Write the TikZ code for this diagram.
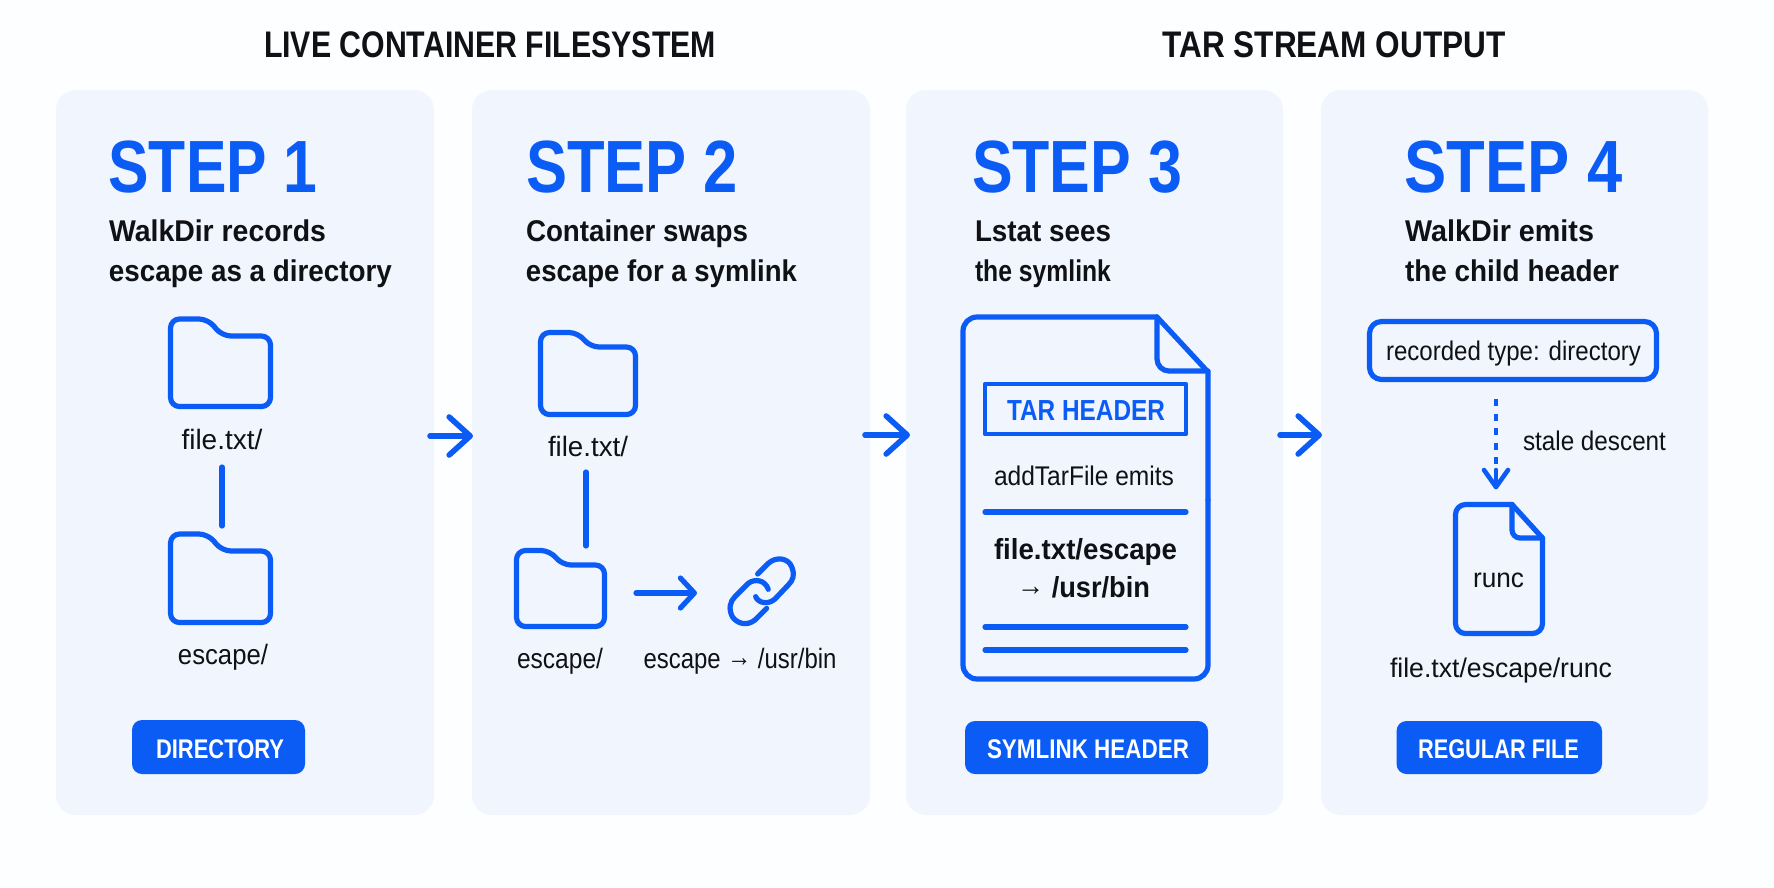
\documentclass[tikz,border=0pt]{standalone}
\usepackage{fontspec}
\usepackage{graphicx}
\setmainfont{Liberation Sans}
\usetikzlibrary{arrows.meta}
\definecolor{bluemain}{HTML}{0B5CF5}
\definecolor{panelbg}{HTML}{F1F5FE}
\definecolor{pagebg}{HTML}{FDFEFF}
\definecolor{inkc}{HTML}{101114}
\tikzset{
  panel/.style={fill=panelbg,draw=none,rounded corners=20pt},
  icon/.style={draw=bluemain,line width=5.2pt,line join=round,line cap=round},
  wire/.style={draw=bluemain,line width=5.2pt,line cap=round},
  flow/.style={draw=bluemain,line width=5.6pt,line cap=round,line join=round,
    -{Straight Barb[length=21pt,width=38pt,line width=5.6pt,round]}},
  smallflow/.style={draw=bluemain,line width=5.2pt,line cap=round,line join=round,
    -{Straight Barb[length=14pt,width=30pt,line width=5.2pt,round]}},
  pill/.style={fill=bluemain,draw=none,rounded corners=10pt},
  txt/.style={anchor=base,inner sep=0pt,outer sep=0pt,text=inkc},
}
\newcommand{\fs}[1]{\fontsize{#1pt}{#1pt}\selectfont}
\newcommand{\upar}{\raisebox{1.5pt}{→}}
% name, x, baseline y, width, font, text
\newcommand{\lab}[6]{\node[txt] (#1) at (#2,#3) {\resizebox{#4pt}{\height}{#5#6}};}
\newcommand{\steplab}[5]{\node[txt,text=bluemain] (#1) at (#2,#3) {\resizebox{#4pt}{\height}{\fs{74}\bfseries #5}};}
\newcommand{\pilllab}[5]{\node[txt,text=white] (#1) at (#2,#3) {\resizebox{#4pt}{\height}{\fs{27}\bfseries #5}};}
% x1 y1 x2 y2 xa xb yt
\newcommand{\folder}[7]{\draw[icon,rounded corners=9pt] (#1,#4) -- (#1,#2) -- (#5,#2) -- (#6,#7) -- (#3,#7) -- (#3,#4) -- cycle;}
\begin{document}
\begin{tikzpicture}[x=1pt,y=-1pt]
\useasboundingbox (0,0) rectangle (1774,887);
\fill[pagebg] (0,0) rectangle (1774,887);
% panels
\fill[panel] (56,90) rectangle (434,815);
\fill[panel] (472,90) rectangle (870,815);
\fill[panel] (906,90) rectangle (1283,815);
\fill[panel] (1321,90) rectangle (1708,815);
% titles
\lab{titleA}{490}{57}{452}{\fs{37}\bfseries}{LIVE CONTAINER FILESYSTEM}
\lab{titleB}{1334}{57}{343}{\fs{37}\bfseries}{TAR STREAM OUTPUT}
% step heads
\steplab{s1}{213}{192}{209}{STEP 1}
\steplab{s2}{632}{192}{212}{STEP 2}
\steplab{s3}{1077}{192}{210}{STEP 3}
\steplab{s4}{1513.5}{192}{218}{STEP 4}
% subtitles
\lab{s1a}{217.5}{241}{217}{\fs{30}\bfseries}{WalkDir records}
\lab{s1b}{250.5}{281}{283}{\fs{30}\bfseries}{escape as a directory}
\lab{s2a}{637}{241}{222}{\fs{30}\bfseries}{Container swaps}
\lab{s2b}{661.5}{281}{271}{\fs{30}\bfseries}{escape for a symlink}
\lab{s3a}{1043}{241}{136}{\fs{30}\bfseries}{Lstat sees}
\lab{s3b}{1043}{281}{136}{\fs{30}\bfseries}{the symlink}
\lab{s4a}{1499.5}{241}{189}{\fs{30}\bfseries}{WalkDir emits}
\lab{s4b}{1512}{281}{214}{\fs{30}\bfseries}{the child header}
% panel 1
\folder{170.5}{319}{270.5}{406.5}{208}{222}{336}
\folder{170.5}{534}{270.5}{622.5}{208}{222}{551}
\lab{p1a}{222}{449}{81}{\fs{28}}{file.txt/}
\lab{p1b}{223}{664}{90}{\fs{28}}{escape/}
\coordinate (c1a) at (222,467);
\coordinate (c1b) at (222,526);
\draw[wire] (c1a) -- (c1b);
\fill[pill] (132,720) rectangle (305,774);
\pilllab{b1}{220}{758}{128}{DIRECTORY}
% panel 2
\folder{540.5}{332.5}{635.5}{414.5}{578}{590}{347}
\folder{516.5}{550.5}{604.5}{626.5}{550}{562}{565}
\lab{p2a}{588}{456}{80}{\fs{28}}{file.txt/}
\lab{p2b}{560}{668}{86}{\fs{28}}{escape/}
\coordinate (c2a) at (586,472);
\coordinate (c2b) at (586,546);
\draw[wire] (c2a) -- (c2b);
\coordinate (c2c) at (636,593);
\coordinate (c2d) at (697,593);
\draw[smallflow] (c2c) -- (c2d);
\begin{scope}[shift={(460,300)},x=0.3333pt,y=-0.3333pt]
\draw[icon] (893,822) -- (925,790) .. controls (950,768) and (985,775) .. (995,800) .. controls (1005,825) and (1000,840) .. (985,855) -- (945,897) .. controls (925,915) and (895,910) .. (887,890);
\draw[icon] (920,925) -- (885,960) .. controls (860,980) and (830,970) .. (817,950) .. controls (805,925) and (810,905) .. (825,890) -- (865,850) .. controls (885,835) and (915,840) .. (925,868);
\end{scope}
\lab{p2c}{740}{668}{193}{\fs{28}}{escape \upar{} /usr/bin}
% panel 3
\draw[icon,rounded corners=14pt] (1157,317) -- (963,317) -- (963,679) -- (1208,679) -- (1208,500);
\draw[icon] (1208,500) -- (1208,372) -- (1157,317);
\draw[icon,rounded corners=12pt] (1157,317) -- (1157,371) -- (1208,371);
\draw[draw=bluemain,line width=4.4pt,line join=round] (985,384) rectangle (1186,434);
\node[txt,text=bluemain] (th) at (1086,420) {\resizebox{158pt}{\height}{\fs{29}\bfseries TAR HEADER}};
\lab{p3a}{1084}{485}{180}{\fs{27}}{addTarFile emits}
\coordinate (l1a) at (985,512); \coordinate (l1b) at (1186,512);
\draw[wire] (l1a) -- (l1b);
\lab{p3b}{1085.5}{559}{183}{\fs{29}\bfseries}{file.txt/escape}
\lab{p3c}{1083.5}{597}{133}{\fs{29}\bfseries}{\upar{} /usr/bin}
\coordinate (l2a) at (985,627); \coordinate (l2b) at (1186,627);
\draw[wire] (l2a) -- (l2b);
\coordinate (l3a) at (985,650); \coordinate (l3b) at (1186,650);
\draw[wire] (l3a) -- (l3b);
\fill[pill] (965,721) rectangle (1208,774);
\pilllab{b3}{1088}{758}{202}{SYMLINK HEADER}
% panel 4
\draw[icon,rounded corners=12pt] (1369.5,321.5) rectangle (1656.5,379.5);
\lab{p4a}{1513.5}{360}{255}{\fs{27}}{recorded type: directory}
\coordinate (dA) at (1496,399);
\coordinate (dB) at (1496,487);
\draw[draw=bluemain,line width=4.6pt,dash pattern=on 7pt off 7.5pt] (dA) -- (1496,470);
\draw[draw=bluemain,line width=4.6pt,line cap=round,line join=round] (1484,470) -- (dB) -- (1508,470);
\draw[draw=bluemain,line width=4.6pt,line cap=round] (1496,470) -- (dB);
\lab{p4b}{1594.5}{450}{143}{\fs{27}}{stale descent}
\draw[icon,rounded corners=10pt] (1512,504.5) -- (1455.5,504.5) -- (1455.5,633.5) -- (1542.5,633.5) -- (1542.5,590);
\draw[icon] (1542.5,590) -- (1542.5,538) -- (1512,504.5);
\draw[icon,rounded corners=8pt] (1512,504.5) -- (1512,538) -- (1542.5,538);
\lab{p4c}{1498.5}{587}{51}{\fs{27}}{runc}
\lab{p4d}{1501}{677}{222}{\fs{27}}{file.txt/escape/runc}
\fill[pill] (1396.5,721) rectangle (1602,774);
\pilllab{b4}{1498.5}{758}{161}{REGULAR FILE}
% flow arrows
\coordinate (a1s) at (430,436); \coordinate (a1e) at (473,436);
\coordinate (a2s) at (865,435); \coordinate (a2e) at (910,435);
\coordinate (a3s) at (1280,435); \coordinate (a3e) at (1322,435);
\draw[flow] (a1s) -- (a1e);
\draw[flow] (a2s) -- (a2e);
\draw[flow] (a3s) -- (a3e);
\end{tikzpicture}
\end{document}
